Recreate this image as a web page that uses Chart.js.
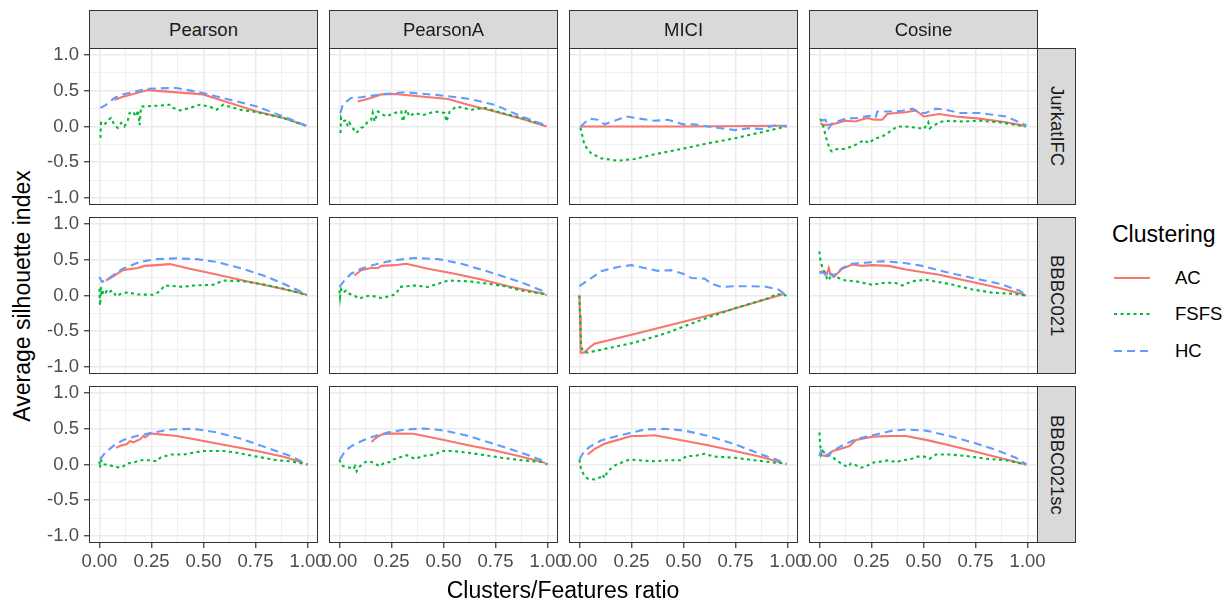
<!DOCTYPE html>
<html>
<head>
<meta charset="utf-8">
<script src="https://cdn.jsdelivr.net/npm/chart.js@4.4.1/dist/chart.umd.min.js"></script>
<style>
  body { margin: 0; background: #fff; width: 1225px; height: 604px; position: relative; overflow: hidden;
         font-family: "Liberation Sans", Arial, sans-serif; }
  canvas { position: absolute; }
  .strip { position: absolute; box-sizing: border-box; background: #d9d9d9; border: 1px solid #333;
           color: #1a1a1a; font-size: 18.5px; display: flex; align-items: center; justify-content: center; }
  .strip.side span { writing-mode: vertical-rl; }
  .panel { position: absolute; box-sizing: border-box; border: 1px solid #333; pointer-events: none; }
  .title { position: absolute; font-size: 23px; color: #000; white-space: nowrap; }
  .lab { position: absolute; font-size: 18.5px; color: #000; }
</style>
</head>
<body>
<script>
"use strict";

const methods = ['Pearson', 'PearsonA', 'MICI', 'Cosine'];
const datasetNames = ['JurkatIFC', 'BBBC021', 'BBBC021sc'];
const seriesNames = ['AC', 'FSFS', 'HC'];
const xTickValues = [0, 0.25, 0.5, 0.75, 1];
const xTickLabels = ['0.00', '0.25', '0.50', '0.75', '1.00'];
const yTickValues = [-1, -0.5, 0, 0.5, 1];
const yTickLabels = ['-1.0', '-0.5', '0.0', '0.5', '1.0'];

// JurkatIFC
const jurkatPearsonAC = [[0.072,0.375],[0.088,0.39],[0.105,0.41],[0.233,0.51],[0.498,0.45],[0.627,0.33],[0.756,0.21],[0.884,0.12],[0.994,0.01]];
const jurkatPearsonFSFS = [[0.005,-0.16],[0.008,0.05],[0.024,0.02],[0.04,0.09],[0.056,0.12],[0.072,0.02],[0.088,-0.02],[0.105,0.05],[0.12,0.0],[0.137,0.09],[0.145,0.19],[0.16,0.21],[0.177,0.14],[0.185,0.23],[0.193,0.02],[0.2,0.28],[0.273,0.29],[0.338,0.305],[0.354,0.26],[0.386,0.225],[0.434,0.26],[0.482,0.305],[0.53,0.28],[0.563,0.235],[0.595,0.305],[0.675,0.235],[0.756,0.2],[0.884,0.12],[0.994,0.01]];
const jurkatPearsonHC = [[0.005,0.26],[0.03,0.3],[0.072,0.40],[0.113,0.45],[0.233,0.53],[0.37,0.54],[0.498,0.47],[0.627,0.375],[0.756,0.28],[0.884,0.14],[0.994,0.01]];

const jurkatPearsonAAC = [[0.088,0.35],[0.152,0.40],[0.2,0.45],[0.265,0.455],[0.393,0.42],[0.522,0.385],[0.618,0.305],[0.746,0.21],[0.875,0.11],[0.995,0.0]];
const jurkatPearsonAFSFS = [[0.005,-0.09],[0.008,0.12],[0.016,0.07],[0.032,0.09],[0.04,0.0],[0.048,0.05],[0.064,-0.02],[0.08,-0.09],[0.096,-0.05],[0.104,-0.02],[0.12,0.0],[0.136,0.07],[0.152,0.09],[0.16,0.19],[0.169,0.07],[0.185,0.21],[0.225,0.14],[0.265,0.19],[0.297,0.21],[0.305,0.07],[0.321,0.235],[0.337,0.14],[0.361,0.19],[0.401,0.16],[0.457,0.21],[0.506,0.19],[0.514,0.07],[0.53,0.21],[0.562,0.28],[0.634,0.235],[0.698,0.26],[0.778,0.19],[0.875,0.12],[0.995,0.01]];
const jurkatPearsonAHC = [[0.005,0.19],[0.016,0.305],[0.056,0.40],[0.104,0.41],[0.2,0.45],[0.313,0.48],[0.474,0.44],[0.618,0.39],[0.746,0.305],[0.859,0.16],[0.995,0.01]];

const jurkatMiciAC = [[0.005,0.0],[0.5,0.0],[0.995,0.01]];
const jurkatMiciFSFS = [[0.005,-0.015],[0.024,-0.26],[0.056,-0.375],[0.104,-0.445],[0.185,-0.48],[0.265,-0.455],[0.361,-0.39],[0.49,-0.315],[0.618,-0.235],[0.746,-0.165],[0.875,-0.08],[0.955,-0.025],[0.995,0.0]];
const jurkatMiciHC = [[0.005,0.0],[0.048,0.11],[0.088,0.095],[0.12,0.03],[0.169,0.08],[0.225,0.14],[0.289,0.11],[0.361,0.08],[0.425,0.095],[0.498,0.03],[0.554,0.03],[0.618,0.0],[0.682,-0.025],[0.746,-0.05],[0.811,-0.025],[0.875,-0.035],[0.939,0.015],[0.995,0.0]];

const jurkatCosineAC = [[0.005,0.045],[0.021,0.02],[0.061,0.03],[0.125,0.08],[0.173,0.07],[0.23,0.12],[0.262,0.095],[0.302,0.095],[0.326,0.175],[0.366,0.19],[0.414,0.2],[0.462,0.225],[0.502,0.14],[0.575,0.175],[0.655,0.14],[0.767,0.11],[0.896,0.06],[0.992,0.005]];
const jurkatCosineFSFS = [[0.005,0.11],[0.021,-0.025],[0.037,-0.21],[0.053,-0.33],[0.061,-0.35],[0.085,-0.315],[0.117,-0.315],[0.157,-0.28],[0.189,-0.235],[0.213,-0.19],[0.238,-0.235],[0.262,-0.175],[0.302,-0.14],[0.334,-0.08],[0.374,0.0],[0.414,0.0],[0.462,-0.015],[0.502,-0.035],[0.523,0.06],[0.53,-0.025],[0.575,0.06],[0.607,0.08],[0.687,0.07],[0.767,0.08],[0.864,0.06],[0.992,0.0]];
const jurkatCosineHC = [[0.005,0.08],[0.029,0.095],[0.045,-0.025],[0.061,0.045],[0.125,0.11],[0.189,0.12],[0.238,0.15],[0.27,0.125],[0.278,0.21],[0.334,0.21],[0.398,0.22],[0.446,0.25],[0.486,0.19],[0.51,0.19],[0.559,0.25],[0.607,0.235],[0.671,0.19],[0.767,0.19],[0.831,0.165],[0.896,0.14],[0.96,0.06],[0.995,0.015]];

// BBBC021
const bbbcPearsonAC = [[0.032,0.21],[0.072,0.28],[0.113,0.355],[0.145,0.37],[0.185,0.385],[0.217,0.415],[0.273,0.425],[0.338,0.44],[0.434,0.375],[0.563,0.295],[0.691,0.21],[0.82,0.13],[0.916,0.07],[0.997,0.01]];
const bbbcPearsonFSFS = [[0.0,0.095],[0.003,-0.14],[0.008,0.12],[0.013,0.0],[0.019,0.07],[0.029,0.04],[0.04,0.085],[0.051,0.055],[0.064,0.07],[0.08,-0.01],[0.104,0.025],[0.137,0.045],[0.177,0.015],[0.257,0.01],[0.289,0.055],[0.313,0.14],[0.37,0.13],[0.402,0.12],[0.45,0.14],[0.547,0.15],[0.595,0.21],[0.691,0.2],[0.788,0.155],[0.884,0.095],[0.994,0.01]];
const bbbcPearsonHC = [[0.0,0.26],[0.013,0.19],[0.03,0.21],[0.064,0.28],[0.113,0.375],[0.193,0.47],[0.273,0.51],[0.37,0.52],[0.466,0.51],[0.563,0.47],[0.675,0.385],[0.788,0.28],[0.884,0.165],[0.957,0.07],[0.997,0.0]];

const bbbcPearsonAAC = [[0.072,0.28],[0.104,0.355],[0.152,0.385],[0.185,0.385],[0.2,0.415],[0.265,0.425],[0.321,0.445],[0.425,0.375],[0.554,0.305],[0.682,0.225],[0.811,0.13],[0.907,0.07],[0.987,0.02]];
const bbbcPearsonAFSFS = [[0.0,0.07],[0.003,-0.025],[0.008,0.085],[0.016,0.04],[0.032,0.07],[0.048,0.025],[0.072,0.0],[0.096,-0.045],[0.12,-0.015],[0.152,0.0],[0.2,-0.035],[0.241,-0.01],[0.273,0.025],[0.289,0.12],[0.361,0.14],[0.425,0.12],[0.474,0.165],[0.522,0.21],[0.618,0.2],[0.714,0.165],[0.795,0.13],[0.875,0.07],[0.987,0.02]];
const bbbcPearsonAHC = [[0.0,0.12],[0.024,0.21],[0.056,0.305],[0.104,0.375],[0.185,0.445],[0.265,0.495],[0.361,0.525],[0.474,0.51],[0.586,0.445],[0.698,0.35],[0.795,0.26],[0.891,0.165],[0.971,0.07],[0.995,0.0]];

const bbbcMiciAC = [[0.0,0.0],[0.003,-0.28],[0.006,-0.80],[0.024,-0.80],[0.04,-0.75],[0.072,-0.675],[0.265,-0.54],[0.49,-0.375],[0.714,-0.21],[0.875,-0.07],[0.987,0.025]];
const bbbcMiciFSFS = [[0.0,0.0],[0.003,-0.28],[0.008,-0.705],[0.016,-0.775],[0.04,-0.80],[0.104,-0.76],[0.265,-0.66],[0.425,-0.52],[0.586,-0.34],[0.746,-0.18],[0.907,-0.04],[0.947,0.02],[0.995,0.0]];
const bbbcMiciHC = [[0.0,0.13],[0.04,0.21],[0.104,0.34],[0.185,0.40],[0.249,0.425],[0.313,0.385],[0.377,0.345],[0.441,0.355],[0.498,0.305],[0.538,0.245],[0.602,0.235],[0.634,0.165],[0.682,0.12],[0.746,0.13],[0.811,0.13],[0.891,0.125],[0.955,0.085],[0.995,0.0]];

const bbbcCosineAC = [[0.0,0.33],[0.021,0.34],[0.037,0.305],[0.045,0.385],[0.053,0.305],[0.069,0.26],[0.109,0.375],[0.157,0.435],[0.205,0.415],[0.254,0.425],[0.334,0.415],[0.414,0.365],[0.575,0.29],[0.735,0.19],[0.864,0.105],[0.96,0.03],[0.992,0.0]];
const bbbcCosineFSFS = [[0.0,0.62],[0.005,0.495],[0.013,0.40],[0.026,0.32],[0.037,0.235],[0.045,0.21],[0.058,0.305],[0.069,0.275],[0.093,0.245],[0.125,0.21],[0.173,0.2],[0.254,0.15],[0.318,0.18],[0.366,0.175],[0.398,0.14],[0.446,0.2],[0.51,0.22],[0.62,0.165],[0.735,0.085],[0.831,0.04],[0.928,0.025],[0.992,0.0]];
const bbbcCosineHC = [[0.0,0.32],[0.021,0.32],[0.037,0.26],[0.053,0.305],[0.069,0.28],[0.109,0.385],[0.157,0.445],[0.221,0.46],[0.302,0.48],[0.398,0.46],[0.494,0.415],[0.607,0.33],[0.735,0.245],[0.864,0.165],[0.96,0.07],[0.995,0.0]];

// BBBC021sc
const scPearsonAC = [[0.08,0.235],[0.107,0.27],[0.131,0.285],[0.147,0.33],[0.163,0.31],[0.196,0.355],[0.212,0.40],[0.22,0.38],[0.244,0.435],[0.372,0.40],[0.5,0.33],[0.628,0.26],[0.756,0.19],[0.885,0.11],[0.978,0.025]];
const scPearsonFSFS = [[0.0,0.045],[0.003,-0.045],[0.008,0.06],[0.016,0.0],[0.035,0.0],[0.067,-0.025],[0.1,-0.045],[0.115,-0.025],[0.131,0.015],[0.163,0.025],[0.196,0.06],[0.236,0.06],[0.276,0.045],[0.292,0.095],[0.34,0.14],[0.404,0.14],[0.5,0.19],[0.596,0.19],[0.66,0.165],[0.756,0.11],[0.853,0.06],[0.917,0.045],[1.0,0.0]];
const scPearsonHC = [[0.003,0.07],[0.027,0.165],[0.067,0.26],[0.115,0.345],[0.179,0.40],[0.244,0.44],[0.34,0.49],[0.452,0.50],[0.564,0.45],[0.676,0.365],[0.804,0.235],[0.917,0.12],[1.0,0.0]];

const scPearsonAAC = [[0.155,0.315],[0.171,0.36],[0.179,0.38],[0.203,0.42],[0.251,0.435],[0.355,0.43],[0.491,0.35],[0.619,0.27],[0.747,0.195],[0.875,0.11],[0.987,0.025]];
const scPearsonAFSFS = [[0.0,0.07],[0.008,0.0],[0.019,-0.025],[0.035,-0.033],[0.051,-0.045],[0.067,-0.07],[0.075,-0.025],[0.083,-0.095],[0.099,-0.025],[0.107,0.0],[0.131,0.045],[0.155,0.035],[0.195,-0.025],[0.211,0.015],[0.243,0.035],[0.259,0.07],[0.323,0.13],[0.363,0.08],[0.403,0.12],[0.459,0.14],[0.491,0.19],[0.539,0.19],[0.619,0.165],[0.699,0.13],[0.779,0.095],[0.875,0.06],[0.971,0.035],[1.0,0.0]];
const scPearsonAHC = [[0.003,0.07],[0.027,0.19],[0.059,0.26],[0.107,0.33],[0.171,0.40],[0.235,0.45],[0.315,0.49],[0.411,0.505],[0.507,0.475],[0.619,0.40],[0.747,0.285],[0.875,0.165],[0.971,0.06],[1.0,0.0]];

const scMiciAC = [[0.04,0.14],[0.072,0.215],[0.12,0.29],[0.185,0.345],[0.249,0.40],[0.297,0.40],[0.361,0.41],[0.49,0.34],[0.618,0.27],[0.746,0.19],[0.875,0.105],[0.97,0.025]];
const scMiciFSFS = [[0.0,0.07],[0.008,-0.07],[0.024,-0.155],[0.04,-0.20],[0.072,-0.21],[0.104,-0.175],[0.112,-0.14],[0.12,-0.19],[0.136,-0.095],[0.169,-0.015],[0.201,0.025],[0.241,0.07],[0.281,0.06],[0.361,0.045],[0.425,0.06],[0.49,0.06],[0.514,0.12],[0.554,0.12],[0.6,0.15],[0.65,0.11],[0.746,0.095],[0.84,0.06],[0.939,0.025],[0.995,0.015]];
const scMiciHC = [[0.0,0.07],[0.024,0.19],[0.056,0.26],[0.104,0.335],[0.169,0.39],[0.233,0.435],[0.313,0.49],[0.409,0.50],[0.506,0.475],[0.618,0.40],[0.746,0.285],[0.875,0.14],[0.955,0.06],[0.995,0.0]];

const scCosineAC = [[0.0,0.14],[0.024,0.12],[0.04,0.14],[0.064,0.19],[0.096,0.215],[0.144,0.26],[0.176,0.345],[0.256,0.39],[0.352,0.40],[0.416,0.40],[0.512,0.345],[0.624,0.27],[0.736,0.19],[0.864,0.095],[0.992,0.0]];
const scCosineFSFS = [[0.0,0.45],[0.003,0.31],[0.008,0.14],[0.016,0.19],[0.032,0.14],[0.056,0.12],[0.088,0.045],[0.112,0.0],[0.136,-0.035],[0.152,0.015],[0.168,0.0],[0.2,-0.045],[0.224,-0.025],[0.256,0.025],[0.304,0.045],[0.336,0.06],[0.368,0.03],[0.4,0.06],[0.432,0.07],[0.472,0.11],[0.504,0.11],[0.528,0.08],[0.56,0.14],[0.624,0.14],[0.704,0.12],[0.8,0.08],[0.896,0.06],[0.992,0.0]];
const scCosineHC = [[0.0,0.12],[0.008,0.19],[0.024,0.11],[0.04,0.12],[0.064,0.19],[0.112,0.27],[0.176,0.355],[0.256,0.41],[0.352,0.475],[0.416,0.49],[0.512,0.475],[0.624,0.40],[0.736,0.31],[0.848,0.205],[0.944,0.095],[0.995,0.0]];

// rows = datasets, cols = methods, each cell = [AC, FSFS, HC]
const panels = [
  [[jurkatPearsonAC, jurkatPearsonFSFS, jurkatPearsonHC], [jurkatPearsonAAC, jurkatPearsonAFSFS, jurkatPearsonAHC],
   [jurkatMiciAC, jurkatMiciFSFS, jurkatMiciHC], [jurkatCosineAC, jurkatCosineFSFS, jurkatCosineHC]],
  [[bbbcPearsonAC, bbbcPearsonFSFS, bbbcPearsonHC], [bbbcPearsonAAC, bbbcPearsonAFSFS, bbbcPearsonAHC],
   [bbbcMiciAC, bbbcMiciFSFS, bbbcMiciHC], [bbbcCosineAC, bbbcCosineFSFS, bbbcCosineHC]],
  [[scPearsonAC, scPearsonFSFS, scPearsonHC], [scPearsonAAC, scPearsonAFSFS, scPearsonAHC],
   [scMiciAC, scMiciFSFS, scMiciHC], [scCosineAC, scCosineFSFS, scCosineHC]]
];

const colors = ['#F8766D', '#00BA38', '#619CFF'];
const dashes = [[], [3, 3.5], [8, 5]];

const W = 229, H = 157;
const colLeft = c => 89 + c * 240;
const rowTop = r => 48 + r * 169;

Chart.defaults.font.family = '"Liberation Sans", Arial, sans-serif';

function withMinor(vals) {
  const out = [];
  for (let i = 0; i < vals.length; i++) {
    out.push(vals[i]);
    if (i < vals.length - 1) out.push((vals[i] + vals[i + 1]) / 2);
  }
  return out;
}
const xGrid = withMinor(xTickValues);
const yGrid = withMinor(yTickValues);

function labelFor(v, vals, labels) {
  const i = vals.findIndex(t => Math.abs(t - v) < 1e-9);
  return i < 0 ? '' : labels[i];
}

function axis(min, max, grid, vals, labels, show, horiz) {
  return {
    type: 'linear', min: min, max: max,
    afterBuildTicks: s => { s.ticks = grid.map(v => ({ value: v })); },
    afterFit: s => {
      if (horiz) s.height = 34; else s.width = 52;
      s.paddingLeft = s.paddingRight = s.paddingTop = s.paddingBottom = 0;
    },
    border: { display: false },
    grid: {
      color: '#ebebeb',
      lineWidth: c => (c.tick && labelFor(c.tick.value, vals, labels)) ? 1.5 : 0.75,
      drawTicks: true,
      tickLength: 5,
      tickWidth: 1.2,
      tickColor: c => (show && c.tick && labelFor(c.tick.value, vals, labels)) ? '#333' : 'rgba(0,0,0,0)'
    },
    ticks: {
      autoSkip: false, maxRotation: 0, minRotation: 0,
      padding: horiz ? 3 : 5,
      color: show ? '#4d4d4d' : 'rgba(0,0,0,0)',
      font: { size: 18.5 },
      callback: v => labelFor(v, vals, labels)
    }
  };
}

datasetNames.forEach((dn, r) => {
  methods.forEach((m, c) => {
    const L = colLeft(c), T = rowTop(r);
    const cv = document.createElement('canvas');
    cv.width = W + 66;
    cv.height = H + 46;
    cv.style.left = (L - 52) + 'px';
    cv.style.top = (T - 12) + 'px';
    document.body.appendChild(cv);

    new Chart(cv, {
      type: 'line',
      data: {
        datasets: seriesNames.map((s, k) => ({
          label: s,
          data: panels[r][c][k].map(p => ({ x: p[0], y: p[1] })),
          borderColor: colors[k],
          borderWidth: 2.1,
          borderDash: dashes[k],
          borderCapStyle: 'butt',
          pointRadius: 0,
          tension: 0,
          fill: false,
          order: 3 - k
        }))
      },
      options: {
        responsive: false,
        animation: false,
        devicePixelRatio: 1,
        layout: { padding: { top: 12, right: 14, left: 0, bottom: 0 } },
        plugins: { legend: { display: false }, tooltip: { enabled: false } },
        scales: {
          x: axis(-0.05, 1.05, xGrid, xTickValues, xTickLabels, r === datasetNames.length - 1, true),
          y: axis(-1.1, 1.1, yGrid, yTickValues, yTickLabels, c === 0, false)
        }
      }
    });
  });
});

// panel borders and strips on top
function add(cls, css, html) {
  const d = document.createElement('div');
  d.className = cls;
  Object.assign(d.style, css);
  if (html !== undefined) d.innerHTML = html;
  document.body.appendChild(d);
  return d;
}

datasetNames.forEach((dn, r) => {
  methods.forEach((m, c) => {
    add('panel', { left: colLeft(c) + 'px', top: rowTop(r) + 'px', width: W + 'px', height: H + 'px' });
  });
  add('strip side', { left: (colLeft(3) + W - 1) + 'px', top: rowTop(r) + 'px', width: '39px', height: H + 'px' },
      '<span>' + dn + '</span>');
});
methods.forEach((m, c) => {
  add('strip', { left: colLeft(c) + 'px', top: '10px', width: W + 'px', height: '39px' }, m);
});

// axis titles
add('title', { left: '22px', top: '296px', transform: 'translate(-50%,-50%) rotate(-90deg)' }, 'Average silhouette index');
add('title', { left: '563px', top: '590px', transform: 'translate(-50%,-50%)' }, 'Clusters/Features ratio');

// legend
add('title', { left: '1112px', top: '234px', transform: 'translateY(-50%)' }, 'Clustering');
const keyY = [278, 314, 351];
let svg = '<svg width="44" height="110" xmlns="http://www.w3.org/2000/svg">';
seriesNames.forEach((s, k) => {
  const y = keyY[k] - 262;
  svg += '<line x1="4" x2="40" y1="' + y + '" y2="' + y + '" stroke="' + colors[k] + '" stroke-width="2.1"' +
         (dashes[k].length ? ' stroke-dasharray="' + dashes[k].join(',') + '"' : '') + '/>';
  add('lab', { left: '1175px', top: keyY[k] + 'px', transform: 'translateY(-50%)' }, s);
});
svg += '</svg>';
add('', { position: 'absolute', left: '1110px', top: '262px' }, svg);
</script>
</body>
</html>
